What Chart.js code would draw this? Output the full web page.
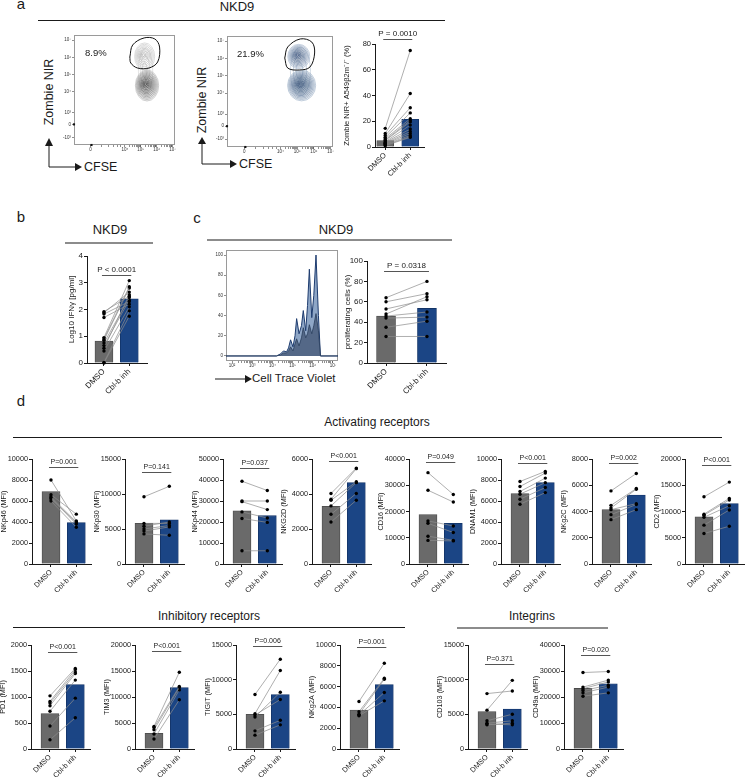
<!doctype html>
<html lang="en">
  <head>
    <meta charset="utf-8" />
    <title>NKD9 Cbl-b inhibitor panels</title>
    <script src="https://cdn.jsdelivr.net/npm/chart.js/dist/chart.umd.min.js"></script>
    <style>
      body {
        margin: 0;
        width: 750px;
        height: 779px;
        position: relative;
        overflow: hidden;
        background: #fff;
        font-family: "Liberation Sans", Arial, sans-serif;
        color: #1a1a1a;
      }
      canvas { position: absolute; }
      svg { position: absolute; left: 0; top: 0; }
      .t { position: absolute; white-space: nowrap; line-height: 1; }
      .c { transform: translate(-50%, -50%); }
      .l { transform: translate(0, -50%); }
      .v { transform: translate(-50%, -50%) rotate(-90deg); }
    </style>
  </head>
  <body>
    <svg width="750" height="779">
      <g stroke="#1a1a1a" stroke-width="1.2">
        <line x1="38" y1="20.5" x2="445" y2="20.5" />
        <line x1="65" y1="243" x2="153" y2="243" />
        <line x1="207" y1="240" x2="452" y2="240" />
        <line x1="13" y1="437.5" x2="722" y2="437.5" />
        <line x1="13" y1="627.5" x2="405" y2="627.5" />
        <line x1="457" y1="628" x2="608" y2="628" />
      </g>
      <g stroke="#1a1a1a" fill="none" stroke-width="1">
        <polyline points="49,145 49,167 76,167" />
        <polyline points="202,144 202,164 230,164" />
        <line x1="215" y1="379" x2="246" y2="379" />
      </g>
      <g fill="#1a1a1a">
        <polygon points="45,146 53,146 49,138" />
        <polygon points="75,163 75,171 82,167" />
        <polygon points="198,144 206,144 202,137" />
        <polygon points="230,160 230,168 237,164" />
        <polygon points="245,375 245,383 252,379" />
      </g>
    </svg>

    <!-- panel letters and headers -->
    <div class="t c" style="left:21px;top:3px;font-size:15px">a</div>
    <div class="t c" style="left:21px;top:216px;font-size:15px">b</div>
    <div class="t c" style="left:197px;top:217px;font-size:15px">c</div>
    <div class="t c" style="left:21px;top:400px;font-size:15px">d</div>
    <div class="t c" style="left:237px;top:6px;font-size:13px">NKD9</div>
    <div class="t c" style="left:110px;top:229px;font-size:13px">NKD9</div>
    <div class="t c" style="left:336px;top:229px;font-size:13px">NKD9</div>
    <div class="t c" style="left:377px;top:422px;font-size:12px">Activating receptors</div>
    <div class="t c" style="left:209px;top:616px;font-size:12px">Inhibitory receptors</div>
    <div class="t c" style="left:532px;top:616px;font-size:12px">Integrins</div>

    <!-- flow plot labels -->
    <div class="t v" style="left:49px;top:92px;font-size:12.5px">Zombie NIR</div>
    <div class="t v" style="left:202px;top:100px;font-size:12.5px">Zombie NIR</div>
    <div class="t l" style="left:84px;top:167px;font-size:12.5px">CFSE</div>
    <div class="t l" style="left:239px;top:164px;font-size:12.5px">CFSE</div>
    <div class="t l" style="left:252px;top:379px;font-size:11.5px">Cell Trace Violet</div>

    <script>
      // ---- data ----
      const groups = ["DMSO", "Cbl-b inh"];

      // a: killing of A549 b2m-/- targets
      const aDmso = [14.5, 10.5, 9, 7.5, 6.5, 5.5, 5, 4, 3.5, 3, 2.5, 2, 1.5, 1];
      const aCbl = [75, 41.5, 30.5, 26.5, 22, 20.5, 19.5, 17, 14, 12, 10.5, 9, 8, 7.5];
      const aBars = [5, 21.5];
      const gatePct = ["8.9%", "21.9%"];

      // b: IFNg
      const bDmso = [1.92, 1.88, 1.83, 1.7, 0.95, 0.9, 0.85, 0.75, 0.65, 0.55, 0.45, 0.02, 0];
      const bCbl = [2.5, 2.65, 2.3, 2.2, 3.08, 2.85, 2.8, 2.45, 2.35, 2.55, 2.1, 1.95, 1.75];
      const bBars = [0.82, 2.4];

      // c: proliferation
      const cDmso = [64, 60, 53, 48, 46, 44, 35, 26];
      const cCbl = [80, 68, 62, 65, 50, 45, 41, 26];
      const cBars = [46, 53.5];

      // c: cell trace violet histogram (log10 fluorescence, % of max)
      const ctvX = [1.7, 4.2, 4.4, 4.55, 4.7, 4.8, 4.9, 5.02, 5.12, 5.2, 5.32, 5.44, 5.53, 5.65, 5.74, 5.83, 5.95, 6.05, 6.16, 6.28, 6.38, 7.25];
      const ctvInh = [0, 0, 2, 5, 4, 8, 16, 9, 20, 37, 22, 30, 45, 25, 50, 86, 38, 60, 100, 40, 0, 0];
      const ctvDmso = [0, 0, 1, 3, 3, 5, 9, 5, 12, 17, 10, 18, 28, 18, 22, 31, 22, 30, 42, 25, 0, 0];
      const ctvTicks = [2, 3, 4, 5, 6, 7];
      const ctvTickLabels = ["10²", "10³", "10⁴", "10⁵", "10⁶", "10⁷"];

      // a: flow plots (biexponential display units)
      const flowYTicks = [5, 4, 3, 2, 0.8, 0.1, -0.65];
      const flowYLabels = ["10⁷", "10⁶", "10⁵", "10⁴", "10³", "0", "-10³"];
      const flowXTicks = [-0.17, 2, 3, 4, 5];
      const flowXLabels = ["0", "10⁴", "10⁵", "10⁶", "10⁷"];
      // populations: [centre x, centre y, radius x, radius y]
      const dmsoDead = [3.24, 4.05, 0.63, 0.79];
      const dmsoLive = [3.39, 2.36, 0.73, 0.9];
      const dmsoBridge = [3.3, 3.2, 0.45, 1.3];
      const inhDead = [3.1, 4.12, 0.66, 0.7];
      const inhLive = [3.27, 2.45, 0.84, 0.89];
      const inhBridge = [3.2, 3.25, 0.6, 1.4];
      const dmsoGate = [[2.31, 4.02], [2.49, 4.72], [3.21, 5.13], [3.88, 5.07], [4.18, 4.6], [4.06, 3.73], [3.52, 3.38], [2.79, 3.38], [2.37, 3.67]];
      const inhGate = [[2.26, 4.03], [2.44, 4.67], [3.19, 5.13], [3.88, 4.95], [4.05, 4.32], [3.77, 3.51], [3.13, 3.34], [2.44, 3.45]];
      const axisEvents = [[-1.2, 0.1], [-0.1, -1.1]];

      // d: activating receptors
      const nkp46Dmso = [8000, 6600, 6400, 6300, 6200, 6000];
      const nkp46Cbl = [4100, 4750, 4000, 3800, 3950, 3500];
      const nkp46Bars = [6900, 3950];
      const nkp30Dmso = [9600, 5800, 5400, 5000, 4700, 4300];
      const nkp30Cbl = [11100, 5800, 6000, 5500, 5300, 4100];
      const nkp30Bars = [5800, 6300];
      const nkp44Dmso = [39400, 30000, 29700, 24800, 21700, 6300];
      const nkp44Cbl = [35000, 30000, 25900, 21900, 19800, 6300];
      const nkp44Bars = [25300, 23000];
      const nkg2dDmso = [4030, 3700, 3640, 3320, 2840, 2400];
      const nkg2dCbl = [5480, 5450, 4700, 4650, 4030, 3640];
      const nkg2dBars = [3300, 4650];
      const cd16Dmso = [34800, 28100, 16400, 15500, 10600, 9000];
      const cd16Cbl = [26500, 23600, 14500, 12000, 9000, 8800];
      const cd16Bars = [18800, 15500];
      const dnam1Dmso = [7860, 7380, 6900, 6650, 6170, 5690];
      const dnam1Cbl = [8820, 8660, 8180, 7750, 7280, 6800];
      const dnam1Bars = [6700, 7750];
      const nkg2cDmso = [5570, 4470, 4270, 4140, 3760, 3380];
      const nkg2cCbl = [6900, 5750, 5700, 4600, 4530, 4140];
      const nkg2cBars = [4150, 5250];
      const cd2Dmso = [12800, 9500, 9300, 8900, 7400, 5800];
      const cd2Cbl = [15600, 12500, 12200, 11100, 10300, 7200];
      const cd2Bars = [9000, 11500];

      // d: inhibitory receptors
      const pd1Dmso = [1022, 915, 883, 833, 726, 442, 177];
      const pd1Cbl = [1550, 1527, 1483, 1451, 1325, 978, 600];
      const pd1Bars = [680, 1240];
      const tim3Dmso = [4340, 4150, 3700, 2880, 1920];
      const tim3Cbl = [14760, 12010, 11820, 11370, 9460];
      const tim3Bars = [3000, 11800];
      const tigitDmso = [7860, 5100, 4900, 4620, 2620, 2000];
      const tigitCbl = [12950, 11330, 7140, 8190, 4140, 3480];
      const tigitBars = [5000, 7850];
      const nkg2aDmso = [4570, 3580, 3350, 3260, 3200];
      const nkg2aCbl = [8240, 6800, 6710, 5430, 4630];
      const nkg2aBars = [3750, 6200];

      // d: integrins
      const cd103Dmso = [7990, 5600, 4070, 3730, 3490, 3600];
      const cd103Cbl = [8370, 9900, 5020, 4070, 3730, 3490];
      const cd103Bars = [5400, 5750];
      const cd49aDmso = [29400, 23800, 23200, 22500, 21600, 20300];
      const cd49aCbl = [29800, 26500, 25800, 24500, 23800, 21600];
      const cd49aBars = [23300, 25100];

      // ---- drawing ----
      const INK = "#1a1a1a";
      const FONT = '"Liberation Sans", Arial, sans-serif';
      Chart.defaults.font.family = FONT;
      Chart.defaults.color = INK;

      function addCanvas(left, top, w, h) {
        const c = document.createElement("canvas");
        c.width = w;
        c.height = h;
        c.style.left = left + "px";
        c.style.top = top + "px";
        c.style.width = w + "px";
        c.style.height = h + "px";
        document.body.appendChild(c);
        return c;
      }

      // P value with the bracket line between the two groups
      const pLabel = {
        id: "pLabel",
        afterDatasetsDraw(chart, args, o) {
          if (!o.text) return;
          const { ctx, scales: { x, y } } = chart;
          const x0 = x.getPixelForValue(0) - 2;
          const x1 = x.getPixelForValue(1) + 2;
          const py = Math.round(y.getPixelForValue(o.at)) + 0.5;
          ctx.save();
          ctx.strokeStyle = "#555";
          ctx.lineWidth = 1;
          ctx.beginPath();
          ctx.moveTo(x0, py);
          ctx.lineTo(x1, py);
          ctx.stroke();
          ctx.fillStyle = INK;
          ctx.font = o.size + "px " + FONT;
          ctx.textAlign = "center";
          ctx.textBaseline = "bottom";
          ctx.fillText(o.text, (x0 + x1) / 2, py - 2);
          ctx.restore();
        },
      };

      function pairedChart(p) {
        const PT = 24, XH = 42;
        const plotH = p.bottom - p.top;
        const canvas = addCanvas(p.ax - p.yw, p.top - PT, p.yw + p.plotW, PT + plotH + XH);
        const font = { size: p.fs, family: FONT };
        const datasets = [
          {
            type: "bar",
            data: [{ x: 0, y: p.bars[0] }, { x: 1, y: p.bars[1] }],
            backgroundColor: ["#6a6a6a", "#1b4585"],
            borderColor: ["#4a4a4a", "#123366"],
            borderWidth: 0.8,
            barThickness: p.barW,
            order: 2,
          },
        ];
        p.dmso.forEach((v, i) => {
          datasets.push({
            type: "line",
            data: [{ x: 0, y: v }, { x: 1, y: p.cbl[i] }],
            borderColor: "#8c8c8c",
            borderWidth: 0.7,
            pointRadius: 1.7,
            pointBackgroundColor: "#000",
            pointBorderWidth: 0,
            clip: false,
            order: 1,
          });
        });
        new Chart(canvas, {
          type: "bar",
          data: { datasets },
          options: {
            responsive: false,
            animation: false,
            events: [],
            layout: { padding: { top: PT, left: 0, right: 0, bottom: 0 } },
            plugins: {
              legend: { display: false },
              tooltip: { enabled: false },
              pLabel: { text: p.p, at: p.pAt, size: p.pfs },
            },
            scales: {
              x: {
                type: "linear",
                min: p.xMin,
                max: p.xMax,
                offset: false,
                afterBuildTicks: (s) => { s.ticks = [{ value: 0 }, { value: 1 }]; },
                afterFit: (s) => { s.height = XH; },
                ticks: {
                  callback: (v) => groups[v],
                  autoSkip: false,
                  minRotation: 45,
                  maxRotation: 45,
                  font,
                  color: INK,
                  padding: 1,
                },
                grid: { drawOnChartArea: false, offset: false, tickLength: 3, color: INK },
                border: { color: INK, width: 1 },
              },
              y: {
                min: 0,
                max: p.yMax,
                afterFit: (s) => { s.width = p.yw; },
                ticks: { stepSize: p.step, autoSkip: false, callback: (v) => String(v), font, color: INK, padding: 1 },
                title: { display: true, text: p.title, font, color: INK, padding: 0 },
                grid: { drawOnChartArea: false, tickLength: 3, color: INK },
                border: { color: INK, width: 1 },
              },
            },
          },
          plugins: [pLabel],
        });
      }

      const row1 = { top: 459, bottom: 564 };
      const row2 = { top: 645, bottom: 749 };
      const dGeom = { plotW: 63, xMin: -0.75, xMax: 1.58, yw: 32, barW: 18, fs: 7.3, pfs: 7 };

      const pairedPanels = [
        { dmso: aDmso, cbl: aCbl, bars: aBars, yMax: 80, step: 20, title: "Zombie NIR+ A549β2m⁻/⁻ (%)", p: "P = 0.0010", pAt: 84, ax: 375, top: 44, bottom: 147, plotW: 53, xMin: -0.41, xMax: 1.55, yw: 33, barW: 17, fs: 7.5, pfs: 8 },
        { dmso: bDmso, cbl: bCbl, bars: bBars, yMax: 4, step: 1, title: "Log10 IFNγ [pg/ml]", p: "P < 0.0001", pAt: 3.29, ax: 87, top: 256, bottom: 363, plotW: 64, xMin: -0.67, xMax: 1.7, yw: 20, barW: 18, fs: 8, pfs: 8 },
        { dmso: cDmso, cbl: cCbl, bars: cBars, yMax: 100, step: 20, title: "proliferating cells (%)", p: "P = 0.0318", pAt: 90, ax: 367, top: 261, bottom: 363, plotW: 83, xMin: -0.465, xMax: 1.465, yw: 24, barW: 19, fs: 8, pfs: 8 },
        { ...dGeom, ...row1, dmso: nkp46Dmso, cbl: nkp46Cbl, bars: nkp46Bars, yMax: 10000, step: 2000, title: "NKp46 (MFI)", p: "P=0.001", pAt: 9240, ax: 32 },
        { ...dGeom, ...row1, dmso: nkp30Dmso, cbl: nkp30Cbl, bars: nkp30Bars, yMax: 15000, step: 5000, title: "NKp30 (MFI)", p: "P=0.141", pAt: 13140, ax: 125 },
        { ...dGeom, ...row1, dmso: nkp44Dmso, cbl: nkp44Cbl, bars: nkp44Bars, yMax: 50000, step: 10000, title: "NKp44 (MFI)", p: "P=0.037", pAt: 45700, ax: 223 },
        { ...dGeom, ...row1, dmso: nkg2dDmso, cbl: nkg2dCbl, bars: nkg2dBars, yMax: 6000, step: 2000, title: "NKG2D (MFI)", p: "P<0.001", pAt: 5900, ax: 312 },
        { ...dGeom, ...row1, dmso: cd16Dmso, cbl: cd16Cbl, bars: cd16Bars, yMax: 40000, step: 10000, title: "CD16 (MFI)", p: "P=0.049", pAt: 38850, ax: 409 },
        { ...dGeom, ...row1, dmso: dnam1Dmso, cbl: dnam1Cbl, bars: dnam1Bars, yMax: 10000, step: 2000, title: "DNAM1 (MFI)", p: "P<0.001", pAt: 9600, ax: 501 },
        { ...dGeom, ...row1, dmso: nkg2cDmso, cbl: nkg2cCbl, bars: nkg2cBars, yMax: 8000, step: 2000, title: "NKg2C (MFI)", p: "P=0.002", pAt: 7690, ax: 592 },
        { ...dGeom, ...row1, dmso: cd2Dmso, cbl: cd2Cbl, bars: cd2Bars, yMax: 20000, step: 5000, title: "CD2 (MFI)", p: "P<0.001", pAt: 18850, ax: 685 },
        { ...dGeom, ...row2, dmso: pd1Dmso, cbl: pd1Cbl, bars: pd1Bars, yMax: 2000, step: 500, title: "PD1 (MFI)", p: "P<0.001", pAt: 1865, ax: 31 },
        { ...dGeom, ...row2, dmso: tim3Dmso, cbl: tim3Cbl, bars: tim3Bars, yMax: 20000, step: 5000, title: "TIM3 (MFI)", p: "P<0.001", pAt: 18850, ax: 135 },
        { ...dGeom, ...row2, dmso: tigitDmso, cbl: tigitCbl, bars: tigitBars, yMax: 15000, step: 5000, title: "TIGIT (MFI)", p: "P=0.006", pAt: 14800, ax: 236 },
        { ...dGeom, ...row2, dmso: nkg2aDmso, cbl: nkg2aCbl, bars: nkg2aBars, yMax: 10000, step: 2000, title: "NKg2A (MFI)", p: "P=0.001", pAt: 9850, ax: 340 },
        { ...dGeom, ...row2, dmso: cd103Dmso, cbl: cd103Cbl, bars: cd103Bars, yMax: 15000, step: 5000, title: "CD103 (MFI)", p: "P=0.371", pAt: 12250, ax: 468 },
        { ...dGeom, ...row2, dmso: cd49aDmso, cbl: cd49aCbl, bars: cd49aBars, yMax: 40000, step: 10000, title: "CD49a (MFI)", p: "P=0.020", pAt: 36150, ax: 564 },
      ];
      pairedPanels.forEach(pairedChart);

      // ---- flow contour plots ----
      function mix(a, b, t) {
        return "rgb(" + a.map((v, i) => Math.round(v + (b[i] - v) * t)).join(",") + ")";
      }

      // frame + contour rings; pops kept in the closure (not as plugin options)
      function framePlugin(pops) {
        return {
          id: "flowDraw",
          beforeDatasetsDraw(chart) {
            const { ctx, chartArea: a, scales: { x, y } } = chart;
            ctx.save();
            ctx.strokeStyle = "#9a9a9a";
            ctx.lineWidth = 1;
            ctx.strokeRect(a.left + 0.5, a.top + 0.5, a.width - 1, a.height - 1);
            pops.forEach((pop) => {
              const [cx, cy, rx, ry] = pop.shape;
              const px = x.getPixelForValue(cx);
              const py = y.getPixelForValue(cy);
              const prx = Math.abs(x.getPixelForValue(cx + rx) - px);
              const pry = Math.abs(y.getPixelForValue(cy + ry) - py);
              for (let i = 0; i < pop.rings; i++) {
                const f = 1 - i / pop.rings;
                ctx.beginPath();
                ctx.ellipse(px - (1 - f) * 1.5, py - (1 - f) * 1.5, prx * f, pry * f, 0, 0, Math.PI * 2);
                if (pop.fill) {
                  ctx.fillStyle = pop.fill;
                  ctx.fill();
                }
                ctx.strokeStyle = mix(pop.outer, pop.inner, i / Math.max(1, pop.rings - 1));
                ctx.lineWidth = 0.6;
                ctx.stroke();
              }
            });
            ctx.restore();
          },
        };
      }

      function flowChart(left, top, w, h, gate, pops) {
        const PT = 4, XH = 10, YW = 14;
        const canvas = addCanvas(left - YW, top - PT, YW + w, PT + h + XH);
        const tinyFont = { size: 4.5, family: FONT };
        const minor = [];
        [2, 3, 4].forEach((d) => [2, 3, 4, 5, 6, 7, 8, 9].forEach((k) => minor.push(d + Math.log10(k))));
        [0.5, 1, 1.3, 1.55, 1.75].forEach((v) => minor.push(v));
        const gatePts = gate.concat([gate[0]]).map(([gx, gy]) => ({ x: gx, y: gy }));
        new Chart(canvas, {
          type: "scatter",
          data: {
            datasets: [
              {
                data: gatePts,
                showLine: true,
                tension: 0.35,
                borderColor: "#111",
                borderWidth: 1,
                pointRadius: 0,
              },
              {
                data: axisEvents.map(([ex, ey]) => ({ x: ex, y: ey })),
                pointStyle: "rect",
                pointRadius: 1.5,
                pointBackgroundColor: "#111",
                pointBorderWidth: 0,
                clip: false,
              },
            ],
          },
          options: {
            responsive: false,
            animation: false,
            events: [],
            layout: { padding: { top: PT, left: 0, right: 0, bottom: 0 } },
            plugins: { legend: { display: false }, tooltip: { enabled: false } },
            scales: {
              x: {
                type: "linear",
                min: -1.2,
                max: 5.15,
                afterBuildTicks: (s) => { s.ticks = flowXTicks.concat(minor).map((v) => ({ value: v })); },
                afterFit: (s) => { s.height = XH; },
                ticks: {
                  callback: (v) => { const i = flowXTicks.indexOf(v); return i < 0 ? "" : flowXLabels[i]; },
                  autoSkip: false,
                  maxRotation: 0,
                  font: tinyFont,
                  color: "#333",
                  padding: 0,
                },
                grid: { drawOnChartArea: false, tickLength: 2, color: "#444", lineWidth: 0.6 },
                border: { display: false },
              },
              y: {
                min: -1.1,
                max: 5.3,
                afterBuildTicks: (s) => { s.ticks = flowYTicks.map((v) => ({ value: v })); },
                afterFit: (s) => { s.width = YW; },
                ticks: {
                  callback: (v) => flowYLabels[flowYTicks.indexOf(v)],
                  autoSkip: false,
                  font: tinyFont,
                  color: "#333",
                  padding: 1,
                },
                grid: { drawOnChartArea: false, tickLength: 2, color: "#444", lineWidth: 0.6 },
                border: { display: false },
              },
            },
          },
          plugins: [framePlugin(pops)],
        });
      }

      flowChart(74, 35, 105, 110, dmsoGate, [
        { shape: dmsoBridge, rings: 3, outer: [210, 210, 210], inner: [195, 195, 195] },
        { shape: dmsoDead, rings: 9, outer: [200, 200, 200], inner: [160, 160, 160] },
        { shape: dmsoLive, rings: 12, outer: [175, 175, 175], inner: [45, 45, 45], fill: "rgba(90,90,90,0.05)" },
      ]);
      flowChart(227, 36, 110, 111, inhGate, [
        { shape: inhBridge, rings: 3, outer: [180, 195, 212], inner: [155, 175, 198] },
        { shape: inhDead, rings: 10, outer: [165, 182, 204], inner: [40, 70, 115], fill: "rgba(50,80,125,0.05)" },
        { shape: inhLive, rings: 13, outer: [155, 174, 198], inner: [30, 55, 100], fill: "rgba(40,70,115,0.05)" },
      ]);

      // percentage of dead targets in the gate
      [[85, 53], [237, 54]].forEach(([lx, ly], i) => {
        const d = document.createElement("div");
        d.className = "t l";
        d.style.left = lx + "px";
        d.style.top = ly + "px";
        d.style.fontSize = "9.5px";
        d.textContent = gatePct[i];
        document.body.appendChild(d);
      });

      // ---- cell trace violet histogram ----
      (function () {
        const PT = 4, XH = 10, YW = 12;
        const left = 226, top = 250, w = 112, h = 111;
        const canvas = addCanvas(left - YW, top - PT, YW + w, PT + h + XH);
        const tinyFont = { size: 4.5, family: FONT };
        const minor = [];
        [2, 3, 4, 5, 6].forEach((d) => [2, 3, 4, 5, 6, 7, 8, 9].forEach((k) => minor.push(d + Math.log10(k))));
        new Chart(canvas, {
          type: "line",
          data: {
            datasets: [
              {
                data: ctvX.map((x, i) => ({ x, y: ctvDmso[i] })),
                fill: "origin",
                backgroundColor: "rgba(78,98,128,0.9)",
                borderColor: "#2a3d5c",
                borderWidth: 0.8,
                pointRadius: 0,
                order: 1,
              },
              {
                data: ctvX.map((x, i) => ({ x, y: ctvInh[i] })),
                fill: "origin",
                backgroundColor: "#8ea6c6",
                borderColor: "#1d3b6e",
                borderWidth: 1,
                pointRadius: 0,
                order: 2,
              },
            ],
          },
          options: {
            responsive: false,
            animation: false,
            events: [],
            layout: { padding: { top: PT, left: 0, right: 0, bottom: 0 } },
            plugins: { legend: { display: false }, tooltip: { enabled: false } },
            scales: {
              x: {
                type: "linear",
                min: 1.7,
                max: 7.25,
                afterBuildTicks: (s) => { s.ticks = ctvTicks.concat(minor).map((v) => ({ value: v })); },
                afterFit: (s) => { s.height = XH; },
                ticks: {
                  callback: (v) => { const i = ctvTicks.indexOf(v); return i < 0 ? "" : ctvTickLabels[i]; },
                  autoSkip: false,
                  maxRotation: 0,
                  font: tinyFont,
                  color: "#333",
                  padding: 0,
                },
                grid: { drawOnChartArea: false, tickLength: 2, color: "#444", lineWidth: 0.6 },
                border: { display: false },
              },
              y: {
                min: -5,
                max: 105,
                afterBuildTicks: (s) => { s.ticks = [0, 20, 40, 60, 80, 100].map((v) => ({ value: v })); },
                afterFit: (s) => { s.width = YW; },
                ticks: { autoSkip: false, font: tinyFont, color: "#333", padding: 1 },
                grid: { drawOnChartArea: false, tickLength: 2, color: "#444", lineWidth: 0.6 },
                border: { display: false },
              },
            },
          },
          plugins: [framePlugin([])],
        });
      })();
    </script>
  </body>
</html>
